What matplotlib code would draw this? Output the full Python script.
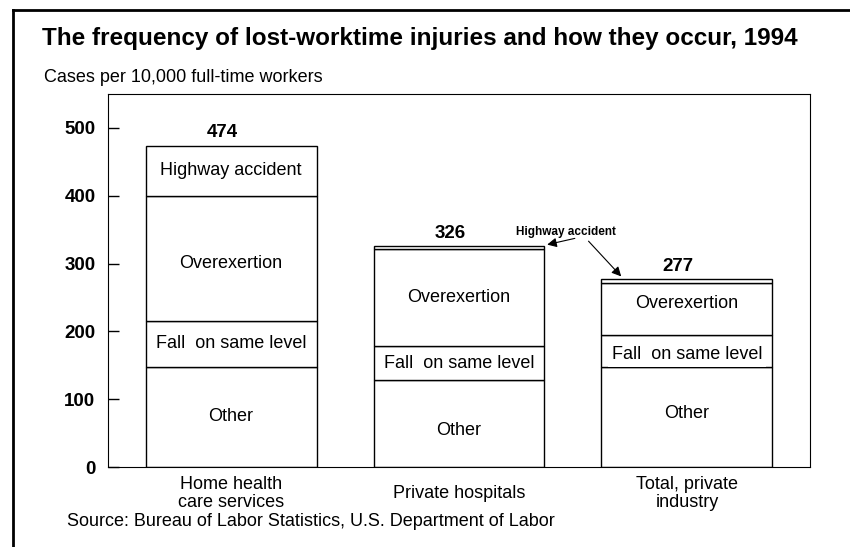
#!/usr/bin/env python3

import matplotlib
matplotlib.use("Agg")
import matplotlib.pyplot as plt
from matplotlib.lines import Line2D

plt.rcParams['font.family'] = ['Liberation Sans', 'DejaVu Sans']

categories = ["Home health\ncare services", "Private hospitals", "Total, private\nindustry"]
other = [148, 128, 147]
fall = [67, 50, 48]
overexertion = [185, 144, 76]
highway = [74, 4, 6]
totals = [474, 326, 277]
yticks = [0, 100, 200, 300, 400, 500]


def main():
    fig = plt.figure(figsize=(8.5, 5.47), dpi=100)
    ax = fig.add_axes([108/850, 1-467/547, 702/850, 373/547])
    x = list(range(len(categories)))
    w = 0.75

    # small nudges of the in-bar labels, as in the original
    nudge = {("Other", 1): -10, ("Other", 2): 5,
             ("Overexertion", 0): -7, ("Overexertion", 2): 8,
             ("Fall  on same level", 2): -5}

    bottoms = [0, 0, 0]
    segs = [("Other", other), ("Fall  on same level", fall),
            ("Overexertion", overexertion), ("Highway accident", highway)]
    for name, vals in segs:
        ax.bar(x, vals, w, bottom=bottoms, color='white', edgecolor='black', linewidth=1)
        for i in range(3):
            mid = bottoms[i] + vals[i] / 2
            if vals[i] > 20:
                bb = None
                if name.startswith("Fall") and i == 2:
                    bb = dict(facecolor='white', edgecolor='none', pad=3)
                ax.text(x[i], mid + nudge.get((name, i), 0), name, ha='center',
                        va='center', fontsize=13, bbox=bb, zorder=5)
            bottoms[i] += vals[i]

    for i in range(3):
        ax.text(x[i] - 0.04, totals[i] + 6, str(totals[i]), ha='center', va='bottom',
                fontsize=13.5, fontweight='bold')

    # pointer for the thin highway slices
    ax.text(1.47, 347, "Highway accident", ha='center', va='center', fontsize=8.5,
            fontweight='bold')
    ax.annotate("", xy=(1.375, 327), xytext=(1.52, 338),
                arrowprops=dict(arrowstyle='-|>', color='black', lw=0.8, mutation_scale=14))
    ax.annotate("", xy=(1.72, 278), xytext=(1.56, 336),
                arrowprops=dict(arrowstyle='-|>', color='black', lw=0.8, mutation_scale=14))

    ax.set_xlim(-0.54, 2.54)
    ax.set_ylim(0, 550)
    ax.set_yticks(yticks)
    ax.set_yticklabels([str(v) for v in yticks], fontsize=13.5, fontweight='bold')
    ax.set_xticks(x)
    ax.set_xticklabels(categories, fontsize=13, linespacing=1.1)
    for lbl in ax.get_xticklabels():
        lbl.set_va('center')
    ax.tick_params(axis='x', length=0, pad=19)
    ax.tick_params(axis='y', direction='in', length=8, width=1, pad=9)
    for s in ax.spines.values():
        s.set_linewidth(0.8)

    fig.text(42/850, 1-38/547, "The frequency of lost-worktime injuries and how they occur, 1994",
             fontsize=17.5, fontweight='bold', va='center')
    fig.text(44/850, 1-78/547, "Cases per 10,000 full-time workers", fontsize=13, va='center')
    fig.text(67/850, 1-522/547, "Source: Bureau of Labor Statistics, U.S. Department of Labor",
             fontsize=13, va='center')

    fig.add_artist(Line2D([13/850, 13/850], [0, 1-10/547], color='black', lw=2,
                          transform=fig.transFigure))
    fig.add_artist(Line2D([13/850, 1], [1-10/547, 1-10/547], color='black', lw=2,
                          transform=fig.transFigure))

    plt.savefig('out.png', dpi=100)


if __name__ == '__main__':
    main()
